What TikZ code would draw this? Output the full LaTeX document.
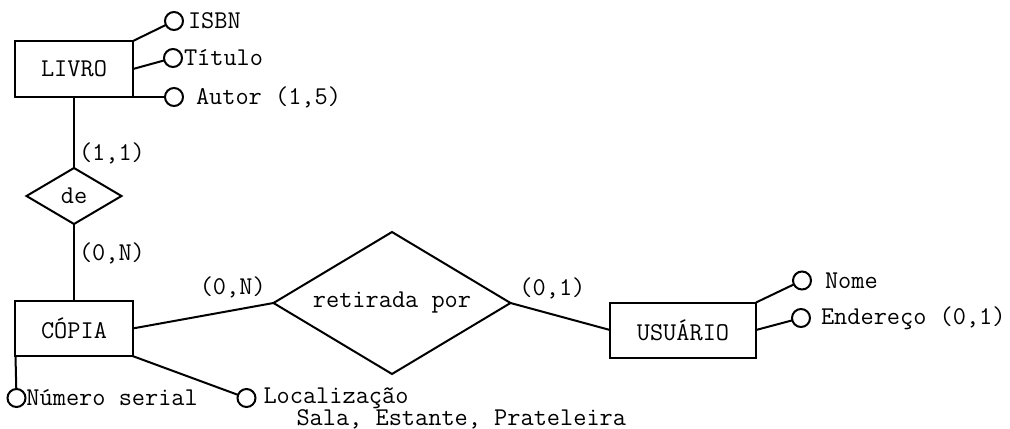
\documentclass[tikz,border=0pt]{standalone}
\usepackage{fontspec}
\usetikzlibrary{shapes.geometric,positioning}

\begin{document}
\begin{tikzpicture}[
	line width = 1pt, % line style
	font = \ttfamily\fontsize{12.8pt}{15pt}\selectfont,
	E/.style={rectangle, draw, minimum width=59pt, minimum height=28pt, outer sep=0pt}, % entity
	R/.style={diamond, draw, inner sep=0pt, outer sep=0pt},                             % relationship
	A/.style={circle, draw, minimum size=9pt, inner sep=0pt, outer sep=0pt},             % attribute
	T/.style={inner sep=0pt},  % attribute text
	K/.style={inner sep=2pt},  % cardinality
	]
	\useasboundingbox (-37pt,34.5pt) rectangle (468pt,-179.5pt);

	% Entities and relationships
	\node[E] (L) {LIVRO};
	\node[R, shape aspect=1.7, minimum width=47.5pt, minimum height=28pt] (D) [on grid, below = 63.5pt of L] {de};
	\node[E, minimum width=58.5pt, minimum height=27.5pt] (C) [on grid, below = 66.25pt of D] {CÓPIA};
	\node[R, shape aspect=1.67, minimum width=118.5pt, minimum height=71pt] (W) [on grid, above right = 12.75pt and 159pt of C] {retirada por};
	\node[E, minimum width=73pt, minimum height=27.5pt] (U) [on grid, below right = 13.5pt and 145.5pt of W] {USUÁRIO};

	% Attributes (circle centred on the shifted anchor)
	\node[A] (isbn) [above right = 10pt and 20.5pt of L.north east, anchor=center] {};
	\node[T] (isbnT) [right = 2pt of isbn] {ISBN};
	\node[A] (tit) [above right = 5.5pt and 20pt of L.east, anchor=center] {};
	\node[T] (titT) [right = 0.5pt of tit] {Título};
	\node[A] (aut) [right = 20.5pt of L.south east, anchor=center] {};
	\node[T] (autT) [right = 6pt of aut] {Autor (1,5)};

	\node[A] (num) [below right = 21pt and 0.5pt of C.south west, anchor=center] {};
	\node[T] (numT) [right = 0pt of num] {Número serial};
	\node[A] (loc) [below right = 21pt and 57pt of C.south east, anchor=center] {};
	\node[T] (locT) [right = 3.5pt of loc] {Localização};
	\node[T] (salaT) [right = 16.5pt of locT.west, yshift=-10.5pt] {Sala, Estante, Prateleira};

	\node[A] (nome) [above right = 11pt and 23pt of U.north east, anchor=center] {};
	\node[T] (nomeT) [right = 6.5pt of nome] {Nome};
	\node[A] (end) [above right = 6pt and 22.5pt of U.east, anchor=center] {};
	\node[T] (endT) [right = 5pt of end] {Endereço (0,1)};

	% Relationship lines and cardinalities
	\path (L) edge node[K, right, pos=.8] (k1) {(1,1)} (D);
	\path (D) edge node[K, right, pos=.38] (k2) {(0,N)} (C);
	\path (C.east) edge node[K, above left, pos=.98] (k3) {(0,N)} (W.west);
	\path (W.east) edge node[K, above right, pos=.04] (k4) {(0,1)} (U.west);

	% Attribute lines
	\path (L.north east) edge (isbn);
	\path (L.east) edge (tit);
	\path (L.south east) edge (aut);
	\path (C.south west) edge (num);
	\path (C.south east) edge (loc);
	\path (U.north east) edge (nome);
	\path (U.east) edge (end);

\end{tikzpicture}
\end{document}
